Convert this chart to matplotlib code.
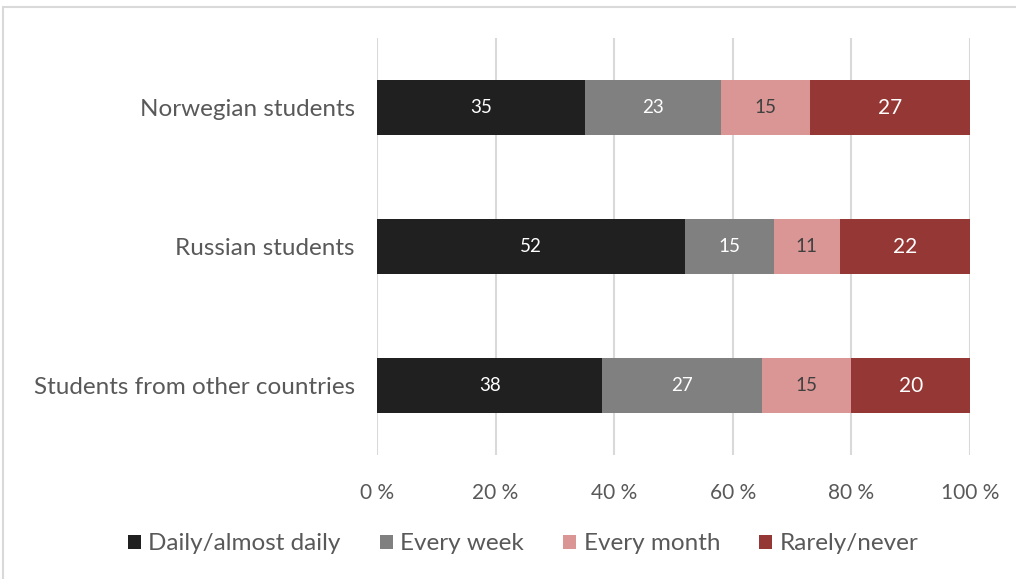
import matplotlib.pyplot as plt
from matplotlib.patches import Rectangle

groups = ["Norwegian students", "Russian students", "Students from other countries"]
series = ["Daily/almost daily", "Every week", "Every month", "Rarely/never"]
daily = [35, 52, 38]
weekly = [23, 15, 27]
monthly = [15, 11, 15]
rarely = [27, 22, 20]
ticks = [0, 20, 40, 60, 80, 100]

colors = ["#202020", "#808080", "#da9694", "#953735"]
label_colors = ["white", "white", "#404040", "white"]
label_sizes = [13.5, 13.5, 13.5, 15]

plt.rcParams['font.family'] = ['Lato', 'DejaVu Sans']

fig = plt.figure(figsize=(10.16, 5.79), dpi=100)
ax = fig.add_axes([377 / 1016, 1 - 455 / 579, 593 / 1016, (455 - 38) / 579])

# outer chart border, cut off at right/bottom like the source
fig.patches.append(Rectangle((3 / 1016, -0.05), 1.1, 1 - 7 / 579 + 0.05,
                             transform=fig.transFigure, fill=False,
                             edgecolor="#d9d9d9", linewidth=1.5))

y = [0, 1, 2]
left = [0, 0, 0]
for vals, c, lc, ls, name in zip([daily, weekly, monthly, rarely], colors,
                                 label_colors, label_sizes, series):
    bars = ax.barh(y, vals, left=left, height=0.4, color=c, label=name, zorder=3)
    for b, v in zip(bars, vals):
        ax.text(b.get_x() + b.get_width() / 2, b.get_y() + b.get_height() / 2,
                str(v), ha="center", va="center", color=lc, fontsize=ls, zorder=4)
    left = [l + v for l, v in zip(left, vals)]

ax.set_xlim(0, 100)
ax.set_ylim(2.5, -0.5)
ax.set_xticks(ticks)
ax.set_xticklabels([f"{t} %" for t in ticks], color="#595959", fontsize=15)
ax.set_yticks(y)
ax.set_yticklabels(groups, color="#595959", fontsize=17.5)
ax.tick_params(length=0, pad=20, axis="x")
ax.tick_params(length=0, pad=16, axis="y")
ax.grid(axis="x", color="#d9d9d9", linewidth=1.5, zorder=0)
for s in ax.spines.values():
    s.set_visible(False)

ax.legend(loc="center", bbox_to_anchor=(523 / 1016, 1 - 544 / 579),
          bbox_transform=fig.transFigure,
          ncol=4, frameon=False, fontsize=17.5, handlelength=0.55, handleheight=0.55,
          handletextpad=0.3, columnspacing=1.6, labelcolor="#595959")

fig.savefig("out.png", dpi=100)
